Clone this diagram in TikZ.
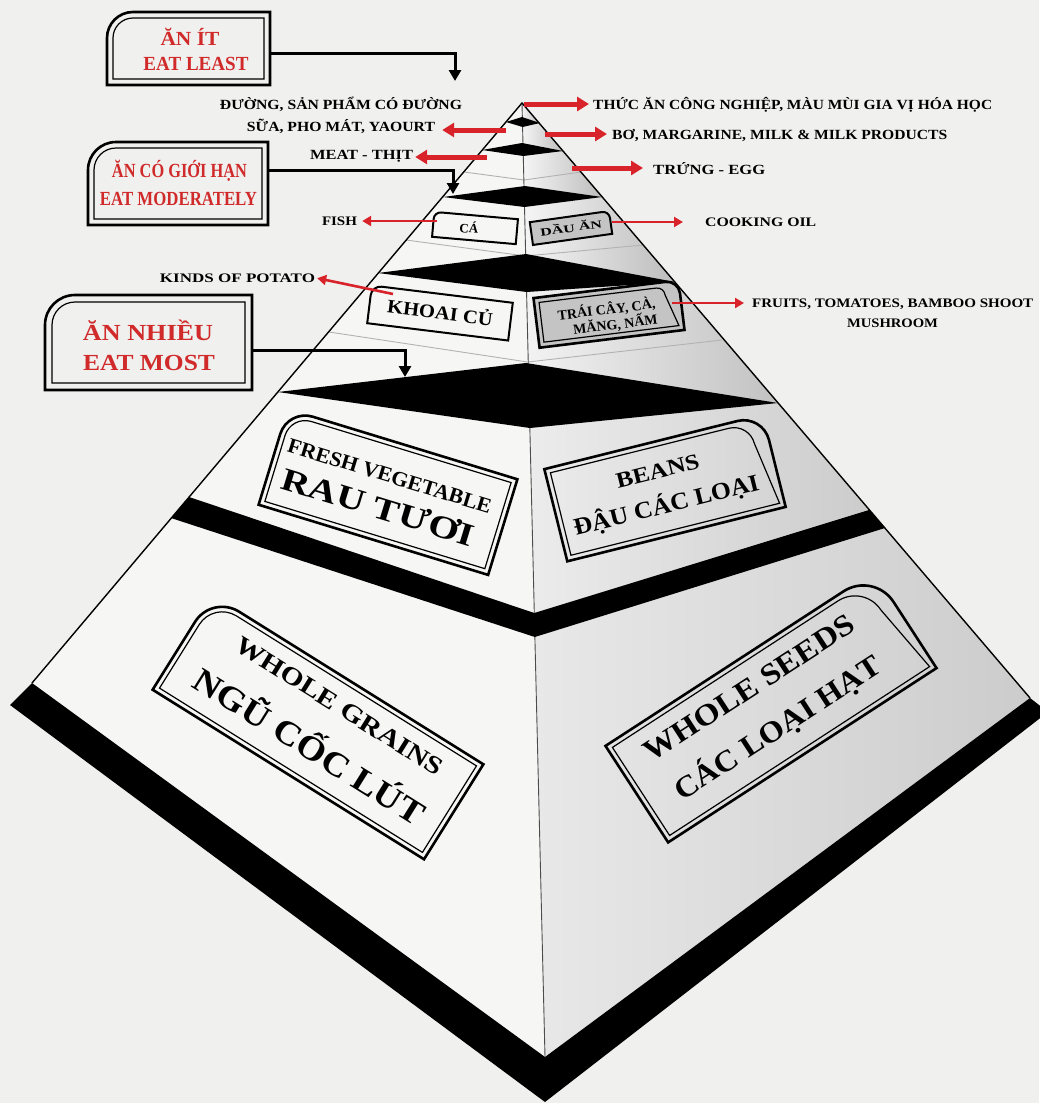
\documentclass[tikz,border=0pt]{standalone}
\usepackage{fontspec}
\usepackage{graphicx}
\setmainfont{Liberation Serif}
\usetikzlibrary{arrows.meta,calc}
\definecolor{paper}{HTML}{F0F0EE}
\definecolor{facel}{HTML}{F6F6F5}
\definecolor{redtxt}{HTML}{D02A2A}
\definecolor{redarr}{HTML}{D8232A}
\definecolor{boxgray}{HTML}{C4C4C4}
\newcommand\myfs[1]{\fontsize{#1}{#1}\selectfont\bfseries}
\newcommand\wfit[2]{\resizebox{#1pt}{\height}{#2}}
% box with rounded top-left corner: x1 y1 x2 y2 r style (local y grows downward)
\newcommand\boxTL[6]{\path[#6] (#1,#4) -- (#1,#2+#5) arc[start angle=180,end angle=90,radius={(#5)*1pt}] -- (#3,#2) -- (#3,#4) -- cycle;}
% box with rounded top-right corner
\newcommand\boxTR[6]{\path[#6] (#1,#2) -- (#3-#5,#2) arc[start angle=90,end angle=0,radius={(#5)*1pt}] -- (#3,#4) -- (#1,#4) -- cycle;}
\newcommand\dboxTL[4]{%
 \boxTL{-#1/2}{-#2/2}{#1/2}{#2/2}{#3}{outerb,#4}
 \boxTL{-#1/2+5}{-#2/2+5}{#1/2-5}{#2/2-5}{#3-5}{innerb}}
\newcommand\dboxTR[4]{%
 \boxTR{-#1/2}{-#2/2}{#1/2}{#2/2}{#3}{outerb,#4}
 \boxTR{-#1/2+5}{-#2/2+5}{#1/2-5}{#2/2-5}{#3-5}{innerb}}
\begin{document}
\begin{tikzpicture}[x=1pt,y=-1pt,
 lab/.style={inner sep=0pt,anchor=base},
 labw/.style={inner sep=0pt,anchor=base west},
 redl/.style={inner sep=0pt,anchor=base,text=redtxt},
 redarrow/.style={draw=redarr,line width=5pt,-{Triangle[length=12pt,width=14pt]}},
 redthin/.style={draw=redarr,line width=2.6pt,-{Triangle[length=9pt,width=10pt]}},
 blkarrow/.style={draw=black,line width=3pt,-{Triangle[length=11pt,width=12pt]}},
 edgeline/.style={draw=black,line width=1.4pt},
 frontline/.style={draw=black!70,line width=0.9pt},
 ledge/.style={draw=gray!60,line width=0.9pt},
 outerb/.style={draw=black,line width=2.6pt},
 innerb/.style={draw=black,line width=1.2pt},
 ghost/.style={inner sep=0pt,draw=none},
 rshade/.style={left color=gray!8,right color=gray!52},
]
\fill[paper] (0,0) rectangle (1039,1103);
\useasboundingbox (0,0) rectangle (1039,1103);

% ---------- pyramid geometry ----------
\coordinate (A) at (522,103);
\coordinate (L) at (32,683);
\coordinate (F) at (545,1057);
\coordinate (R) at (1030,698);
\coordinate (f1) at (522.6,127); \coordinate (r1) at (539,123);
\coordinate (f2) at (523.3,156); \coordinate (r2) at (563,151);
\coordinate (f3) at (524.5,207); \coordinate (r3) at (602,197);
\coordinate (f4) at (526.6,292); \coordinate (r4) at (675,282);
\coordinate (f5) at (530,428);   \coordinate (r5) at (778,403);
\coordinate (f6) at (534.3,613); \coordinate (r6) at (869,510);

% faces
\fill[facel] (A) -- (L) -- (F) -- cycle;
\shade[rshade] (A) -- (r1) -- (f1) -- cycle;
\shade[rshade] (f1) -- (r1) -- (r2) -- (f2) -- cycle;
\shade[rshade] (f2) -- (r2) -- (r3) -- (f3) -- cycle;
\shade[rshade] (f3) -- (r3) -- (r4) -- (f4) -- cycle;
\shade[left color=gray!10,right color=gray!48] (f4) -- (r4) -- (r5) -- (f5) -- cycle;
\shade[left color=gray!15,right color=gray!40] (f5) -- (r5) -- (r6) -- (f6) -- cycle;
\shade[left color=gray!18,right color=gray!40] (f6) -- (r6) -- (R) -- (F) -- cycle;

% ledge lines
\draw[ledge] (464,172) -- (524,180) -- (581,172);
\draw[ledge] (406,240) -- (525.6,256) -- (643,245);
\draw[ledge] (329,332) -- (527.7,362) -- (722,340);

% edges
\draw[frontline] (A) -- (F);
\draw[edgeline] (L) -- (A) -- (R);

% tier tops
\fill[black] (506,122) -- (522,117) -- (540,123) -- (f1) -- cycle;
\fill[black] (482,150) -- (522,143) -- (563,151) -- (f2) -- cycle;
\fill[black] (443,197) -- (525,186) -- (r3) -- (f3) -- cycle;
\fill[black] (378,273) -- (526,254) -- (r4) -- (f4) -- cycle;
\fill[black] (278,392) -- (526,363) -- (r5) -- (f5) -- cycle;
\fill[black] (189,497) -- (f6) -- (r6) -- (885,528) -- (534.8,637) -- (171,518) -- cycle;
\fill[black] (L) -- (F) -- (R) -- (1048,712) -- (545,1102) -- (10,705) -- cycle;

% ---------- boxes on the faces ----------
\begin{scope}[shift={(475,228)},rotate=-5,transform shape]
 \boxTL{-42}{-12.5}{42}{12.5}{7}{draw=black,line width=2pt,fill=facel}
 \node[lab] (ca) at (-6,5.5) {\myfs{13}CÁ};
\end{scope}
\begin{scope}[shift={(571,228)},rotate=8,transform shape]
 \boxTR{-40}{-11.5}{40}{11.5}{7}{draw=black,line width=2pt,fill=boxgray}
 \node[lab] (dau) at (0,4) {\myfs{11}\wfit{62}{DẦU ĂN}};
\end{scope}
\begin{scope}[shift={(440,313)},rotate=-7,transform shape]
 \boxTL{-71}{-19}{71}{19}{10}{draw=black,line width=2pt,fill=facel}
 \node[lab] (khoai) at (0,6.5) {\myfs{19}\wfit{106}{KHOAI CỦ}};
\end{scope}
\begin{scope}[shift={(609,314)},rotate=7,transform shape]
 \dboxTR{146}{50}{13}{fill=boxgray}
 \node[lab] (trai1) at (-2,0) {\myfs{14}TRÁI CÂY, CÀ,};
 \node[lab] (trai2) at (5,16) {\myfs{14}MĂNG, NẤM};
\end{scope}
\begin{scope}[shift={(388,492)},rotate=-17,transform shape]
 \dboxTL{240}{100}{26}{}
 \node[lab] (fresh) at (-3,-9) {\myfs{21}\wfit{212}{FRESH VEGETABLE}};
 \node[lab] (rau) at (-5,28) {\myfs{32}\wfit{200}{RAU TƯƠI}};
\end{scope}
\begin{scope}[shift={(665,488)},rotate=14,transform shape]
 \dboxTR{225}{95}{26}{}
 \node[lab] (beans) at (-3,-11) {\myfs{22}\wfit{85}{BEANS}};
 \node[lab] (dauloai) at (-3,25) {\myfs{24}\wfit{190}{ĐẬU CÁC LOẠI}};
\end{scope}
\begin{scope}[shift={(318,727)},rotate=-32,transform shape]
 \dboxTL{320}{112}{32}{}
 \node[lab] (grains) at (7,-21) {\myfs{25}\wfit{240}{WHOLE GRAINS}};
 \node[lab] (ngucoc) at (3,33) {\myfs{34}\wfit{265}{NGŨ CỐC LÚT}};
\end{scope}
\begin{scope}[shift={(771,707)},rotate=33,transform shape]
 \dboxTR{320}{115}{36}{}
 \node[lab] (seeds) at (-8,-18) {\myfs{30}\wfit{245}{WHOLE SEEDS}};
 \node[lab] (cachat) at (-6,31) {\myfs{30}\wfit{240}{CÁC LOẠI HẠT}};
\end{scope}

% ---------- side labels ----------
\node[lab] (duong) at (341,109) {\myfs{14}\wfit{242}{ĐƯỜNG, SẢN PHẨM CÓ ĐƯỜNG}};
\node[lab] (sua) at (341,131) {\myfs{14}\wfit{188}{SỮA, PHO MÁT, YAOURT}};
\node[lab] (meat) at (361.5,159) {\myfs{14}\wfit{103}{MEAT - THỊT}};
\node[labw] (thuc) at (593,109) {\myfs{14}\wfit{399}{THỨC ĂN CÔNG NGHIỆP, MÀU MÙI GIA VỊ HÓA HỌC}};
\node[labw] (bo) at (612,139) {\myfs{14}\wfit{335}{BƠ, MARGARINE, MILK \& MILK PRODUCTS}};
\node[labw] (trung) at (653,174) {\myfs{14}\wfit{112}{TRỨNG - EGG}};
\node[lab] (fish) at (339.5,225) {\myfs{13}\wfit{35}{FISH}};
\node[labw] (oil) at (705,226) {\myfs{13}\wfit{111}{COOKING OIL}};
\node[lab] (potato) at (237.5,282) {\myfs{13}\wfit{155}{KINDS OF POTATO}};
\node[labw] (fruits) at (752,307) {\myfs{13}\wfit{281}{FRUITS, TOMATOES, BAMBOO SHOOT}};
\node[lab] (mush) at (892.5,327) {\myfs{13}\wfit{91}{MUSHROOM}};

% red arrows
\coordinate (s1) at (524,104);
\coordinate (s2) at (506,130);
\coordinate (s3) at (545,134);
\coordinate (s4) at (487,157);
\coordinate (s5) at (572,168);
\coordinate (s6) at (437,221);
\coordinate (s7) at (612,222);
\coordinate (s8) at (393,294);
\coordinate (s9) at (672,303);
\draw[redarrow,shorten >=4pt] (s1) -- (s1 -| thuc.west);
\draw[redarrow,shorten >=7pt] (s2) -- (s2 -| sua.east);
\draw[redarrow,shorten >=5pt] (s3) -- (s3 -| bo.west);
\draw[redarrow,shorten >=2pt] (s4) -- (s4 -| meat.east);
\draw[redarrow,shorten >=10pt] (s5) -- (s5 -| trung.west);
\draw[redthin,shorten >=5pt] (s6) -- (s6 -| fish.east);
\draw[redthin,shorten >=22pt] (s7) -- (s7 -| oil.west);
\draw[redthin,shorten >=2pt] (s8) -- (potato.east);
\draw[redthin,shorten >=8pt] (s9) -- (s9 -| fruits.west);

% ---------- red label boxes ----------
\boxTL{107}{12}{270}{85}{26}{outerb}
\boxTL{113}{18}{264}{79}{20}{innerb}
\node[ghost,minimum width=163pt,minimum height=73pt] (bLeast) at (188.5,48.5) {};
\node[redl] (t1a) at (190,45) {\myfs{20}\wfit{59}{ĂN ÍT}};
\node[redl] (t1b) at (196,70) {\myfs{20}\wfit{105}{EAT LEAST}};

\boxTL{88}{142}{268}{225}{28}{outerb}
\boxTL{94}{148}{262}{219}{22}{innerb}
\node[ghost,minimum width=180pt,minimum height=83pt] (bMod) at (178,183.5) {};
\node[redl] (t2a) at (179.5,177) {\myfs{20}\wfit{135}{ĂN CÓ GIỚI HẠN}};
\node[redl] (t2b) at (178.5,205) {\myfs{20}\wfit{157}{EAT MODERATELY}};

\boxTL{45}{295}{252}{390}{30}{outerb}
\boxTL{52}{302}{245}{383}{23}{innerb}
\node[ghost,minimum width=207pt,minimum height=95pt] (bMost) at (148.5,342.5) {};
\node[redl] (t3a) at (148,340) {\myfs{23}\wfit{130}{ĂN NHIỀU}};
\node[redl] (t3b) at (149,370) {\myfs{23}\wfit{132}{EAT MOST}};

% black connectors
\coordinate (kLeast) at (455,81);
\coordinate (kMod) at (453,194);
\coordinate (kMost) at (405,377);
\draw[blkarrow] ([yshift=-4.5pt]bLeast.east) -| (kLeast);
\draw[blkarrow] ([yshift=13.5pt]bMod.east) -| (kMod);
\draw[blkarrow] ([yshift=-7.5pt]bMost.east) -| (kMost);
\end{tikzpicture}
\end{document}
